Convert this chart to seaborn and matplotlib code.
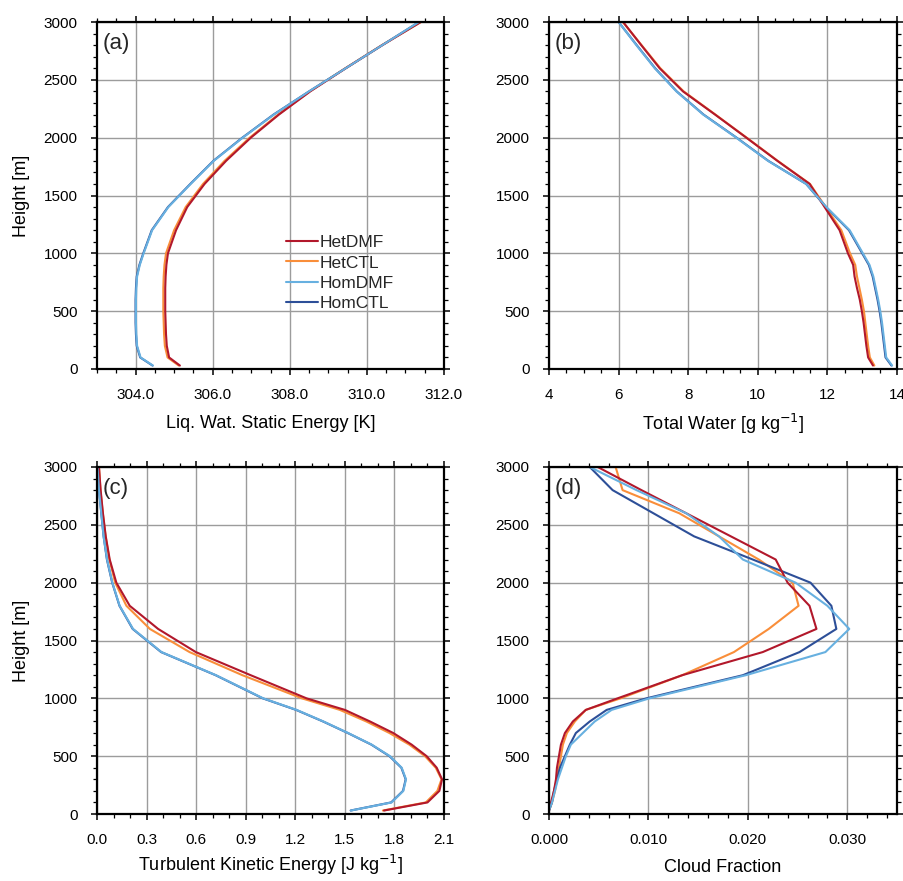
import numpy as np
import pandas as pd
import matplotlib
matplotlib.use("Agg")
import matplotlib.pyplot as plt
from matplotlib.ticker import MultipleLocator, FormatStrFormatter
from matplotlib.lines import Line2D
import seaborn as sns

sns.set_theme(style="white")
plt.rcParams['font.family'] = ['Liberation Sans', 'DejaVu Sans']

heights = [30, 100, 200, 300, 400, 500, 600, 700, 800, 900, 1000,
           1200, 1400, 1600, 1800, 2000, 2200, 2400, 2600, 2800, 3000]
runs = ["HetDMF", "HetCTL", "HomDMF", "HomCTL"]
colors = {"HetDMF": "#b2182b", "HetCTL": "#f98e3a", "HomDMF": "#67b0e0", "HomCTL": "#2d4f98"}

# (a) Liquid water static energy [K]
thl_HetDMF = [305.15, 304.87, 304.81, 304.79, 304.78, 304.77, 304.77, 304.77, 304.78, 304.80, 304.84,
              305.05, 305.34, 305.79, 306.35, 306.99, 307.72, 308.53, 309.45, 310.40, 311.40]
thl_HetCTL = [305.12, 304.83, 304.76, 304.74, 304.73, 304.72, 304.72, 304.72, 304.73, 304.75, 304.79,
              305.00, 305.30, 305.75, 306.31, 306.96, 307.70, 308.52, 309.44, 310.39, 311.40]
thl_HomDMF = [304.45, 304.13, 304.04, 304.02, 304.01, 304.01, 304.01, 304.02, 304.04, 304.11, 304.21,
              304.43, 304.85, 305.43, 306.03, 306.78, 307.59, 308.50, 309.45, 310.40, 311.35]
thl_HomCTL = [304.44, 304.12, 304.03, 304.01, 304.00, 304.00, 304.00, 304.01, 304.03, 304.10, 304.20,
              304.42, 304.84, 305.42, 306.02, 306.77, 307.58, 308.50, 309.45, 310.40, 311.35]

# (b) Total water [g/kg]
qt_HetDMF = [13.31, 13.17, 13.12, 13.08, 13.04, 12.99, 12.93, 12.85, 12.78, 12.74, 12.59,
             12.35, 11.92, 11.49, 10.56, 9.67, 8.77, 7.85, 7.18, 6.65, 6.13]
qt_HetCTL = [13.35, 13.22, 13.17, 13.13, 13.09, 13.05, 12.99, 12.92, 12.85, 12.80, 12.65,
             12.40, 11.95, 11.50, 10.57, 9.68, 8.78, 7.87, 7.20, 6.66, 6.12]
qt_HomDMF = [13.86, 13.69, 13.65, 13.61, 13.57, 13.52, 13.46, 13.39, 13.32, 13.21, 13.02,
             12.64, 11.97, 11.39, 10.29, 9.38, 8.43, 7.66, 7.04, 6.51, 6.00]
qt_HomCTL = [13.84, 13.67, 13.63, 13.59, 13.55, 13.50, 13.44, 13.37, 13.30, 13.19, 13.00,
             12.62, 11.96, 11.39, 10.30, 9.39, 8.44, 7.67, 7.05, 6.52, 6.00]

# (c) TKE [J/kg]
tke_HetDMF = [1.737, 2.000, 2.072, 2.088, 2.056, 1.995, 1.904, 1.793, 1.652, 1.500, 1.268,
              0.930, 0.598, 0.370, 0.198, 0.117, 0.077, 0.053, 0.036, 0.022, 0.012]
tke_HetCTL = [1.730, 1.990, 2.060, 2.085, 2.050, 1.985, 1.890, 1.770, 1.630, 1.470, 1.240,
              0.880, 0.560, 0.320, 0.178, 0.110, 0.075, 0.052, 0.035, 0.021, 0.012]
tke_HomDMF = [1.537, 1.783, 1.854, 1.870, 1.844, 1.773, 1.662, 1.520, 1.370, 1.208, 1.006,
              0.720, 0.390, 0.218, 0.137, 0.093, 0.061, 0.040, 0.026, 0.012, 0.003]
tke_HomCTL = [1.535, 1.780, 1.852, 1.868, 1.842, 1.770, 1.660, 1.518, 1.368, 1.205, 1.003,
              0.718, 0.388, 0.216, 0.136, 0.092, 0.060, 0.040, 0.026, 0.012, 0.003]

# (d) Cloud fraction
cf_HetDMF = [0.0, 0.0002, 0.0005, 0.0007, 0.0008, 0.0010, 0.0012, 0.0016, 0.0024, 0.0037, 0.0069,
             0.0134, 0.0215, 0.0269, 0.0262, 0.0240, 0.0228, 0.0183, 0.0138, 0.0093, 0.0049]
cf_HetCTL = [0.0, 0.0003, 0.0006, 0.0008, 0.0010, 0.0012, 0.0014, 0.0018, 0.0026, 0.0037, 0.0072,
             0.0134, 0.0186, 0.0221, 0.0251, 0.0245, 0.0211, 0.0171, 0.0131, 0.0074, 0.0067]
cf_HomDMF = [0.0, 0.0003, 0.0006, 0.0009, 0.0013, 0.0017, 0.0022, 0.0034, 0.0046, 0.0063, 0.0101,
             0.0198, 0.0278, 0.0302, 0.0280, 0.0248, 0.0195, 0.0171, 0.0138, 0.0088, 0.0041]
cf_HomCTL = [0.0, 0.0003, 0.0005, 0.0008, 0.0011, 0.0016, 0.0021, 0.0027, 0.0041, 0.0058, 0.0098,
             0.0195, 0.0252, 0.0289, 0.0284, 0.0263, 0.0205, 0.0146, 0.0105, 0.0064, 0.0041]

panels = [
    dict(data={"HetDMF": thl_HetDMF, "HetCTL": thl_HetCTL, "HomDMF": thl_HomDMF, "HomCTL": thl_HomCTL},
         xlabel="Liq. Wat. Static Energy [K]", xlim=(303, 312), major=2.0, minor=0.5, fmt="%.1f",
         label="(a)", ylabel=True, lpad=9),
    dict(data={"HetDMF": qt_HetDMF, "HetCTL": qt_HetCTL, "HomDMF": qt_HomDMF, "HomCTL": qt_HomCTL},
         xlabel="Total Water [g kg$^{\\mathsf{-1}}$]", xlim=(4, 14), major=2, minor=0.5, fmt="%d",
         label="(b)", ylabel=False, lpad=7),
    dict(data={"HetDMF": tke_HetDMF, "HetCTL": tke_HetCTL, "HomDMF": tke_HomDMF, "HomCTL": tke_HomCTL},
         xlabel="Turbulent Kinetic Energy [J kg$^{\\mathsf{-1}}$]", xlim=(0, 2.1), major=0.3, minor=0.1,
         fmt="%.1f", label="(c)", ylabel=True, lpad=4),
    dict(data={"HetDMF": cf_HetDMF, "HetCTL": cf_HetCTL, "HomDMF": cf_HomDMF, "HomCTL": cf_HomCTL},
         xlabel="Cloud Fraction", xlim=(0, 0.035), major=0.01, minor=0.002, fmt="%.3f",
         label="(d)", ylabel=False, lpad=8),
]

W, H = 904, 881
fig = plt.figure(figsize=(W / 100, H / 100), dpi=100)
boxes = [(97, 22, 444, 369), (549, 22, 897, 369), (97, 467, 444, 814), (549, 467, 897, 814)]
draw_order = ["HetCTL", "HomCTL", "HetDMF", "HomDMF"]

for p, (l, t, r, b) in zip(panels, boxes):
    ax = fig.add_axes([l / W, 1 - b / H, (r - l) / W, (b - t) / H])
    rows = []
    for run in runs:
        for h, v in zip(heights, p["data"][run]):
            rows.append({"run": run, "height": h, "value": v})
    df = pd.DataFrame(rows)
    sns.lineplot(data=df, x="value", y="height", hue="run", hue_order=draw_order,
                 palette=colors, orient="y", estimator=None, sort=True, lw=1.5, ax=ax, legend=False)
    ax.set_xlim(*p["xlim"])
    ax.set_ylim(0, 3000)
    ax.xaxis.set_major_locator(MultipleLocator(p["major"]))
    ax.xaxis.set_minor_locator(MultipleLocator(p["minor"]))
    ax.xaxis.set_major_formatter(FormatStrFormatter(p["fmt"]))
    ax.yaxis.set_major_locator(MultipleLocator(500))
    ax.yaxis.set_minor_locator(MultipleLocator(100))
    ax.grid(True, which="major", color="#9c9c9c", lw=1.0)
    ax.set_axisbelow(True)
    for s in ax.spines.values():
        s.set_visible(True)
        s.set_color("black")
        s.set_linewidth(1.6)
    ax.tick_params(which="both", direction="out", top=True, right=True, bottom=True, left=True,
                   colors="black", labelsize=11, pad=9.5)
    ax.tick_params(which="major", length=4.5, width=1.1)
    ax.tick_params(which="minor", length=2.7, width=0.9)
    ax.set_xlabel(p["xlabel"], fontsize=13, labelpad=p["lpad"], color="black")
    if p["ylabel"]:
        ax.set_ylabel("Height [m]", fontsize=13, labelpad=10, color="black")
    else:
        ax.set_ylabel("")
    ax.text(0.015, 0.968, p["label"], transform=ax.transAxes, fontsize=16, va="top", ha="left")
    if p["label"] == "(a)":
        handles = [Line2D([], [], color=colors[r_], lw=1.5) for r_ in runs]
        ax.legend(handles, runs, loc="upper left", bbox_to_anchor=(0.545, 0.386), frameon=False,
                  fontsize=12.5, handlelength=1.85, handletextpad=0.1, labelspacing=0.3,
                  borderpad=0, borderaxespad=0)

fig.savefig("out.png", dpi=100)
